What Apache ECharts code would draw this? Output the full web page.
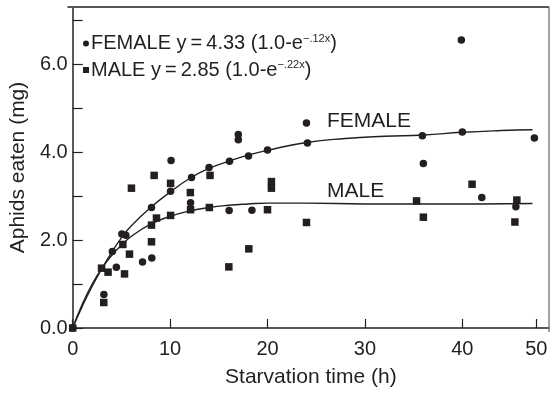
<!DOCTYPE html>
<html>
<head>
<meta charset="utf-8">
<script src="https://cdn.jsdelivr.net/npm/echarts@6/dist/echarts.min.js"></script>
<style>
html,body{margin:0;padding:0;background:#fff;}
#c{width:551px;height:393px;}
</style>
</head>
<body>
<div id="c"></div>
<script>
// Observed points (x = starvation time h, y = aphids eaten mg)
const femaleX = [0, 3.2, 4.07, 4.48, 5.05, 5.45, 7.17, 8.12, 8.09, 10.05, 12.1, 10.1, 12.2, 14.0, 16.1, 17.0, 17.0, 18.05, 16.06, 18.4, 20.0, 24.0, 24.1, 35.9, 36.0, 40.0, 39.9, 47.4, 42.0, 45.5];
const femaleY = [0, 0.76, 1.74, 1.38, 2.14, 2.11, 1.5, 1.59, 2.74, 3.11, 2.85, 3.81, 3.42, 3.65, 3.79, 4.40, 4.28, 3.91, 2.67, 2.68, 4.05, 4.66, 4.21, 4.37, 3.74, 4.46, 6.55, 4.32, 2.97, 2.76];
const maleX = [0, 3.19, 2.96, 3.63, 5.15, 5.32, 5.83, 6.03, 8.09, 8.09, 8.6, 10.05, 10.05, 12.08, 12.1, 8.36, 14.1, 14.03, 16.03, 18.08, 20.4, 20.4, 20.0, 24.0, 35.3, 36.0, 41.0, 45.6, 45.4];
const maleY = [0, 0.58, 1.36, 1.27, 1.90, 1.23, 1.68, 3.18, 1.96, 2.34, 2.50, 3.29, 2.56, 3.08, 2.69, 3.47, 3.47, 2.74, 1.39, 1.80, 3.33, 3.18, 2.69, 2.40, 2.89, 2.52, 3.27, 2.91, 2.41];
// Fitted curves
const femaleCurveX = [0, 1, 2, 3, 4, 5, 6, 8, 10, 12, 14, 16, 18, 20, 24, 28, 32, 36, 40, 44, 47.2];
const femaleCurveY = [0, 0.5, 0.95, 1.35, 1.72, 2.05, 2.32, 2.74, 3.09, 3.4, 3.63, 3.79, 3.93, 4.04, 4.22, 4.31, 4.36, 4.39, 4.45, 4.49, 4.51];
const maleCurveX = [0, 1, 2, 3, 4, 5, 6, 8, 10, 12, 14, 16, 18, 20, 24, 30, 36, 42, 47.2];
const maleCurveY = [0, 0.55, 1.0, 1.36, 1.65, 1.88, 2.08, 2.36, 2.54, 2.66, 2.74, 2.79, 2.82, 2.84, 2.84, 2.82, 2.82, 2.82, 2.83];
// Axis ticks
const xTickValues = [0, 10, 20, 30, 40, 47.6];
const xTickLabels = ['0', '10', '20', '30', '40', '50'];
const yTickValues = [0, 1, 2, 3, 4, 5, 6, 7];
const yLabelValues = [0, 2, 4, 6];
const seriesNames = ['FEMALE', 'MALE'];
const legendFormulas = {
  'FEMALE': ['4.33', '\u2212.12x'],
  'MALE': ['2.85', '\u2212.22x']
};

const zip = (xs, ys) => xs.map((x, i) => [x, ys[i]]);
const ink = '#231f20';
const font = 'Liberation Sans, Arial, Helvetica, sans-serif';
const X_MIN = 0, X_MAX = 48.9, Y_MIN = 0, Y_MAX = 7.3;
const G = {left: 67.5, right: 2, top: 7, bottom: 61};
const W = 551, H = 393;

const chart = echarts.init(document.getElementById('c'), null, {renderer: 'canvas'});
chart.setOption({
  animation: false,
  backgroundColor: '#fff',
  textStyle: {fontFamily: font, color: ink},
  grid: {left: G.left, right: G.right, top: G.top, bottom: G.bottom},
  legend: {
    data: seriesNames.map(n => ({name: n, icon: n === 'FEMALE' ? 'circle' : 'rect'})),
    orient: 'vertical',
    left: 78, top: 28,
    itemWidth: 6, itemHeight: 6, itemGap: 6,
    selectedMode: false,
    formatter: n => `${n} y\u2009=\u2009${legendFormulas[n][0]} (1.0-e{sup|${legendFormulas[n][1]}})`,
    textStyle: {
      fontFamily: font, fontSize: 20, color: ink, padding: [0, 0, 0, -3],
      rich: {sup: {fontFamily: font, fontSize: 11, color: ink, verticalAlign: 'top', padding: [0, 0, 10, 0]}}
    }
  },
  xAxis: {
    type: 'value', min: X_MIN, max: X_MAX,
    name: 'Starvation time (h)', nameLocation: 'middle', nameGap: 39,
    nameTextStyle: {fontSize: 21, color: ink, fontFamily: font},
    axisLine: {onZero: false, lineStyle: {color: ink, width: 1.5}},
    axisTick: {inside: true, length: 9, customValues: xTickValues, lineStyle: {color: ink, width: 1.2}},
    axisLabel: {customValues: xTickValues, formatter: (v) => xTickLabels[xTickValues.indexOf(v)] ?? '', fontSize: 20, color: ink, margin: 11, fontFamily: font},
    splitLine: {show: false}
  },
  yAxis: {
    type: 'value', min: Y_MIN, max: Y_MAX,
    name: 'Aphids eaten (mg)', nameLocation: 'middle', nameGap: 36,
    nameTextStyle: {fontSize: 21, color: ink, fontFamily: font},
    axisLine: {onZero: false, lineStyle: {color: ink, width: 1.5}},
    axisTick: {inside: true, length: 10, customValues: yTickValues, lineStyle: {color: ink, width: 1.2}},
    axisLabel: {customValues: yLabelValues, formatter: v => v.toFixed(1), fontSize: 20, color: ink, margin: 5, fontFamily: font},
    splitLine: {show: false}
  },
  graphic: [
    {type: 'line', silent: true, z: 100,
      shape: {x1: G.left, y1: G.top, x2: W - G.right, y2: G.top},
      style: {stroke: '#555', lineWidth: 2}},
    {type: 'line', silent: true, z: 100,
      shape: {x1: W - G.right, y1: G.top, x2: W - G.right, y2: H - G.bottom},
      style: {stroke: '#666', lineWidth: 1.2}},
    {type: 'text', left: 327, top: 111, style: {text: 'FEMALE', font: '21px ' + font, fill: ink}},
    {type: 'text', left: 327, top: 181, style: {text: 'MALE', font: '21px ' + font, fill: ink}}
  ],
  series: [
    {name: 'FEMALE curve', type: 'line', data: zip(femaleCurveX, femaleCurveY), smooth: true, showSymbol: false, symbol: 'none', lineStyle: {color: ink, width: 1.4}, silent: true, z: 2},
    {name: 'MALE curve', type: 'line', data: zip(maleCurveX, maleCurveY), smooth: true, showSymbol: false, symbol: 'none', lineStyle: {color: ink, width: 1.4}, silent: true, z: 2},
    {name: 'FEMALE', type: 'scatter', data: zip(femaleX, femaleY), symbol: 'circle', symbolSize: 7.5, itemStyle: {color: ink, opacity: 1}, z: 3},
    {name: 'MALE', type: 'scatter', data: zip(maleX, maleY), symbol: 'rect', symbolSize: 7.5, itemStyle: {color: ink, opacity: 1}, z: 3}
  ]
});
</script>
</body>
</html>
